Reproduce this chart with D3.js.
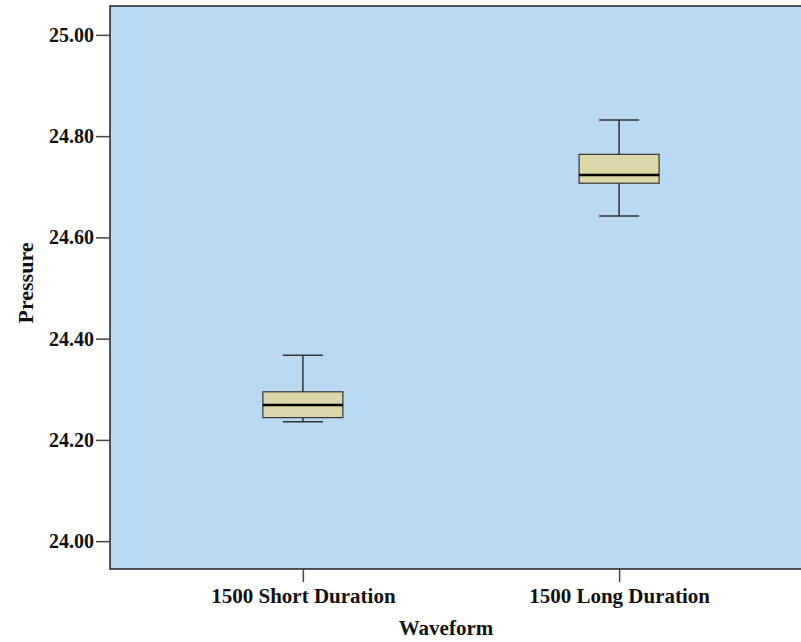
<!DOCTYPE html>
<html>
<head>
<meta charset="utf-8">
<script src="https://cdn.jsdelivr.net/npm/d3@7"></script>
<style>
  body { margin: 0; background: #fff; }
  svg text { font-family: "Liberation Serif", "Times New Roman", serif; font-weight: bold; fill: #111; }
</style>
</head>
<body>
<div id="chart"></div>
<script>
// data
var categories = ["1500 Short Duration", "1500 Long Duration"];
var whiskerLow  = [24.236, 24.642];
var q1          = [24.244, 24.707];
var medians     = [24.269, 24.723];
var q3          = [24.295, 24.764];
var whiskerHigh = [24.367, 24.832];
var yTicks = [24.0, 24.2, 24.4, 24.6, 24.8, 25.0];

// set the dimensions and margins of the graph
var margin = {top: 6, right: -11, bottom: 73, left: 110},
    width = 801 - margin.left - margin.right,
    height = 642 - margin.top - margin.bottom;

var svg = d3.select("#chart")
    .append("svg")
    .attr("width", 801)
    .attr("height", 642)
    .append("g")
    .attr("transform", "translate(" + margin.left + "," + margin.top + ")");

// plot background
svg.append("rect")
    .attr("x", 0).attr("y", 0)
    .attr("width", width).attr("height", height)
    .attr("fill", "#b9d8f1")
    .attr("stroke", "#222")
    .attr("stroke-width", 1.5);

var x = d3.scalePoint()
    .domain(categories)
    .range([0, width])
    .padding(0.61);

var y = d3.scaleLinear()
    .domain([23.945, 25.057])
    .range([height, 0]);

// Y axis
var yAxis = svg.append("g")
    .call(d3.axisLeft(y).tickValues(yTicks).tickFormat(d3.format(".2f")).tickSize(14).tickPadding(2));
yAxis.select(".domain").remove();
yAxis.selectAll("line").attr("stroke", "#444").attr("stroke-width", 1.5);
yAxis.selectAll("text").style("font-size", "20px").attr("fill", "#111");

// X axis
var xAxis = svg.append("g")
    .attr("transform", "translate(0," + height + ")")
    .call(d3.axisBottom(x).tickSize(13).tickPadding(6));
xAxis.select(".domain").remove();
xAxis.selectAll("line").attr("stroke", "#444").attr("stroke-width", 1.5);
xAxis.selectAll("text").style("font-size", "21px").attr("fill", "#111");

// boxes
var boxW = 80, capW = 40;
var data = categories.map(function(c, i) {
    return {cat: c, lo: whiskerLow[i], q1: q1[i], med: medians[i], q3: q3[i], hi: whiskerHigh[i]};
});

var g = svg.selectAll(".box")
    .data(data)
    .enter()
    .append("g")
    .attr("class", "box");

// whisker stems
g.append("line")
    .attr("x1", function(d) { return x(d.cat); })
    .attr("x2", function(d) { return x(d.cat); })
    .attr("y1", function(d) { return y(d.hi); })
    .attr("y2", function(d) { return y(d.lo); })
    .attr("stroke", "#333").attr("stroke-width", 1.5);

// caps
["hi", "lo"].forEach(function(k) {
    g.append("line")
        .attr("x1", function(d) { return x(d.cat) - capW / 2; })
        .attr("x2", function(d) { return x(d.cat) + capW / 2; })
        .attr("y1", function(d) { return y(d[k]); })
        .attr("y2", function(d) { return y(d[k]); })
        .attr("stroke", "#333").attr("stroke-width", 1.5);
});

g.append("rect")
    .attr("x", function(d) { return x(d.cat) - boxW / 2; })
    .attr("y", function(d) { return y(d.q3); })
    .attr("width", boxW)
    .attr("height", function(d) { return y(d.q1) - y(d.q3); })
    .attr("fill", "#dcd7a8")
    .attr("stroke", "#333")
    .attr("stroke-width", 1.2);

g.append("line")
    .attr("x1", function(d) { return x(d.cat) - boxW / 2; })
    .attr("x2", function(d) { return x(d.cat) + boxW / 2; })
    .attr("y1", function(d) { return y(d.med); })
    .attr("y2", function(d) { return y(d.med); })
    .attr("stroke", "#000").attr("stroke-width", 2.5);

// axis titles
svg.append("text")
    .attr("x", 336).attr("y", height + 66)
    .attr("text-anchor", "middle")
    .style("font-size", "21px")
    .text("Waveform");

svg.append("text")
    .attr("transform", "translate(-77," + (y(24.5) - 5) + ")rotate(-90)")
    .attr("text-anchor", "middle")
    .style("font-size", "22px")
    .text("Pressure");
</script>
</body>
</html>
